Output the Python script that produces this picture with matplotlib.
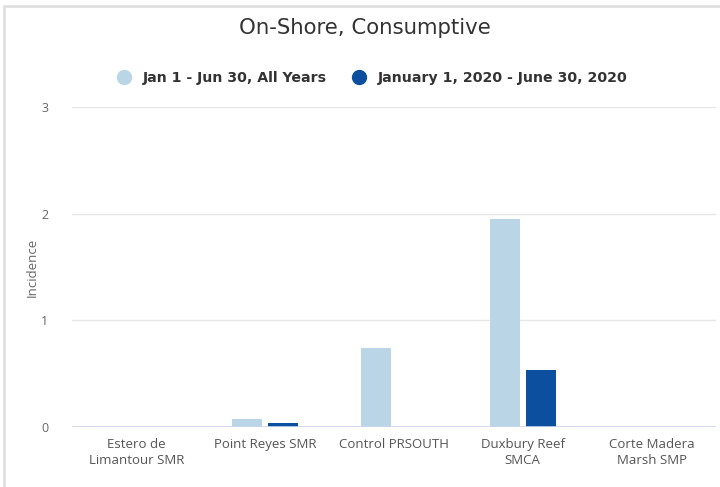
import matplotlib
matplotlib.use("Agg")
import matplotlib.pyplot as plt
from matplotlib.patches import Rectangle
from matplotlib.lines import Line2D
import numpy as np

categories = ["Estero de\nLimantour SMR", "Point Reyes SMR", "Control PRSOUTH",
              "Duxbury Reef\nSMCA", "Corte Madera\nMarsh SMP"]
series_names = ["Jan 1 - Jun 30, All Years", "January 1, 2020 - June 30, 2020"]
all_years = [0, 0.075, 0.74, 1.95, 0]
y2020 = [0, 0.04, 0, 0.53, 0]
yticks = [0, 1, 2, 3]

light = "#b9d5e6"
dark = "#0b4f9e"

W, H = 720, 487
fig = plt.figure(figsize=(W / 100, H / 100), dpi=100)
ax = fig.add_axes([72 / W, 1 - 427 / H, (716 - 72) / W, (427 - 107) / H])

x = np.arange(len(categories))
bw = 0.232
off = 0.14
ax.bar(x - off, all_years, bw, color=light, zorder=3)
ax.bar(x + off, y2020, bw, color=dark, zorder=3)

ax.set_xlim(-0.5, len(categories) - 0.5)
ax.set_ylim(0, 3)
ax.set_yticks(yticks)
ax.set_yticklabels([str(t) for t in yticks], fontsize=9, color="#666666", family="Open Sans")
ax.set_xticks(x)
ax.set_xticklabels(categories, fontsize=9.5, color="#555555", family="Open Sans", linespacing=1.3)
ax.tick_params(axis="both", length=0)
ax.tick_params(axis="y", pad=17)
ax.tick_params(axis="x", pad=8)
for t in yticks[1:]:
    ax.axhline(t, color="#e6e6e6", lw=1, zorder=1)
ax.axhline(0, color="#ccd6eb", lw=1.2, zorder=4)
for s in ax.spines.values():
    s.set_visible(False)
ax.set_ylabel("Incidence", fontsize=9.5, color="#666666", family="Open Sans", labelpad=2)

fig.text(365 / W, 1 - 28 / H, "On-Shore, Consumptive", ha="center", va="center",
         fontsize=15.3, color="#333333", family="DejaVu Sans")

handles = [Line2D([], [], marker="o", ls="", ms=10, color=light),
           Line2D([], [], marker="o", ls="", ms=10, color=dark)]
leg = fig.legend(handles, series_names, loc="center", bbox_to_anchor=(369 / W, 1 - 78 / H),
                 ncol=2, frameon=False, handletextpad=0.3, columnspacing=1.3,
                 prop={"family": "DejaVu Sans", "weight": "bold", "size": 10.2})
for t in leg.get_texts():
    t.set_color("#333333")

fig.patches.append(Rectangle((4 / W, -0.1), 1.1, 1 - 6 / H + 0.1, transform=fig.transFigure,
                             fill=False, edgecolor="#dddddd", lw=1.8))

fig.savefig("out.png", dpi=100, facecolor="white")
